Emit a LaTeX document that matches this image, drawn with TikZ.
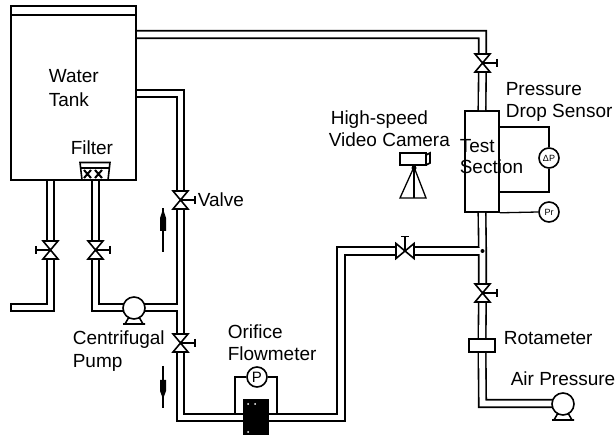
\documentclass[tikz,border=0pt]{standalone}
\usepackage{fontspec}
\setmainfont{Liberation Sans}
\usetikzlibrary{arrows.meta, calc}

% both passes of the pipe network go through this list
\newcommand{\pipenet}[1]{
  \draw[#1] (topcorner -| tank.east) -- (topcorner) -- (valvetop) -- (test.north);
  \draw[#1] (test.south) -- (junction) -- (valveair) -- (rotameter) -- (aircorner) -- (airpump);
  \draw[#1] (junction) -- (valvemid) -- (risercorner) -- (lowcorner) -- (returncorner) -- (valveup) -- (returntop) -- (returntop -| tank.east);
  \draw[#1] (tee) -- (pump) -- (suctioncorner) -- (suctiontop);
  \draw[#1] (draintop) -- (draincorner) -- (drainend);
}

\begin{document}
\begin{tikzpicture}[
  x=1pt, y=-1pt,
  line width=1.6pt,
  lbl/.style={anchor=base west, inner sep=0pt, font=\fontsize{19}{22}\selectfont},
  tankbox/.style={rectangle, draw, minimum width=125pt, minimum height=174pt, inner sep=0pt},
  testbox/.style={rectangle, draw, minimum width=34pt, minimum height=101pt, inner sep=0pt},
  rotabox/.style={rectangle, draw, fill=white, minimum width=26pt, minimum height=13pt, inner sep=0pt},
  meterbox/.style={rectangle, fill=black, minimum width=26pt, minimum height=36pt, inner sep=0pt},
  pumpbody/.style={circle, draw, fill=white, minimum size=22pt, inner sep=0pt},
  gauge/.style={circle, draw, fill=white, minimum size=20pt, inner sep=0pt, font=\fontsize{#1}{#1}\selectfont},
  pipeouter/.style={line width=9.1pt, line join=miter},
  pipeinner/.style={line width=5.9pt, line join=miter, white},
  sigline/.style={line width=1.3pt},
  flowline/.style={line width=1.2pt},
  valve/.pic={
    \fill[white] (-6,-9) rectangle (6,9);
    \draw (-7.5,-9) -- (7.5,-9) -- (-7.5,9) -- (7.5,9) -- cycle;
    \draw (0,0) -- (14.5,0) (14.5,-4) -- (14.5,4);
  },
  pumpfoot/.pic={
    \draw (-5,9) -- (-9,16) (5,9) -- (9,16) (-11,16) -- (11,16);
  },
]
\useasboundingbox (0,0) rectangle (616,435);

% --- Main units ---
\node[tankbox] (tank) at (73.5,93) {};
\node[testbox] (test) at (482,161.5) {};
\node[rotabox] (rotameter) at (482,345.5) {};
\node[meterbox] (orifice) at (256,417) {};

% --- Pipe points ---
\coordinate (topcorner) at (482.5,34.5);
\coordinate (valvetop) at (482.5,63);
\coordinate (junction) at (482.5,251);
\coordinate (valveair) at (482.5,293);
\coordinate (aircorner) at (482.5,403.5);
\coordinate (airpump) at (563,403.5);
\coordinate (valvemid) at (405,251);
\coordinate (risercorner) at (341,251);
\coordinate (lowcorner) at (341,417.5);
\coordinate (returncorner) at (180.5,417.5);
\coordinate (valveup) at (180.5,200);
\coordinate (valvelow) at (180.5,343);
\coordinate (returntop) at (180.5,93.5);
\coordinate (tee) at (180.5,307.5);
\coordinate (pump) at (134,307.5);
\coordinate (suctioncorner) at (95.5,307.5);
\coordinate (suctiontop) at (95.5,180);
\coordinate (valvesuction) at (95.5,250);
\coordinate (draintop) at (50.5,180);
\coordinate (valvedrain) at (50.5,250);
\coordinate (draincorner) at (50.5,307.5);
\coordinate (drainend) at (11,307.5);

% --- Pipes ---
\pipenet{pipeouter}
\pipenet{pipeinner}
\draw (drainend) ++(0,-4.5) -- ++(0,9);
\fill (junction) circle (2pt);

% --- Units again, over the pipes ---
\node[tankbox] at (tank) {};
\node[rotabox] at (rotameter) {};
\node[meterbox] at (orifice) {};
\draw (tank.west |- 0,15) -- (tank.east |- 0,15);

% --- Valves ---
\pic at (valvetop) {valve};
\pic at (valveair) {valve};
\pic at (valveup) {valve};
\pic at (valvelow) {valve};
\pic at (valvesuction) {valve};
\pic[xscale=-1] at (valvedrain) {valve};
\pic[rotate=90] at (valvemid) {valve};

% --- Pumps ---
\node[pumpbody] (centrifugal) at (134,308) {};
\pic at (centrifugal) {pumpfoot};
\node[pumpbody] (airblower) at (563,404) {};
\pic at (airblower) {pumpfoot};

% --- Filter ---
\draw[fill=white] (80,162.5) -- (110,162.5) -- (108,180) -- (82,180) -- cycle;
\draw (81,168) -- (109,168);
\draw[line width=2pt] (84,170) -- (91,178) (91,170) -- (84,178) (95,170) -- (102,178) (102,170) -- (95,178);

% --- Orifice meter ---
\node[gauge=15] (dp) at (257,377) {P};
\coordinate (tapleft) at (235,414);
\coordinate (tapright) at (277,414);
\draw[sigline] (dp.west) -| (tapleft);
\draw[sigline] (dp.east) -| (tapright);
\fill[white] (248,404) circle (1pt) (255,404) circle (1pt) (248,432) circle (1pt);

% --- Sensors on the test section ---
\node[gauge=9] (deltap) at (549,158) {ΔP};
\node[gauge=9] (pr) at (549,212) {Pr};
\coordinate (taptop) at (test.east |- 0,127);
\coordinate (tapbottom) at (test.east |- 0,192);
\draw[sigline] (taptop) -| (deltap.north);
\draw[sigline] (tapbottom) -| (deltap.south);
\draw[sigline] (test.south east) -- (pr.west);

% --- Camera ---
\draw (400,153) rectangle (426,165);
\draw (426,155) -- (430,153) -- (430,163) -- (426,165);
\draw[sigline] (414,167) -- (400,198) -- (426,198) -- cycle;
\draw[sigline] (414,167) -- (414,198);
\fill (414,168) circle (2.5pt);

% --- Flow arrows ---
\draw[flowline] (163,252) -- (163,208);
\fill (160,231) rectangle (166,218) (160,218) -- (166,218) -- (163,209) -- cycle;
\draw[flowline] (163,366) -- (163,408);
\fill (160,380) rectangle (166,391) (160,391) -- (166,391) -- (163,399) -- cycle;

% --- Labels ---
\node[lbl] (water) at (48,83) {Water};
\node[lbl] (tanklbl) at (48,107) {Tank};
\node[lbl] (filterlbl) at (70,155) {Filter};
\node[lbl] (valvelbl) at (197,207) {Valve};
\node[lbl] (centlbl) at (72,345) {Centrifugal};
\node[lbl] (pumplbl) at (72,368) {Pump};
\node[lbl] (orificelbl) at (227,339) {Orifice};
\node[lbl] (flowlbl) at (227,361) {Flowmeter};
\node[lbl] (highlbl) at (330,125) {High-speed};
\node[lbl] (videolbl) at (328,147) {Video Camera};
\node[lbl] (testlbl) at (459,153) {Test};
\node[lbl] (sectionlbl) at (459,174) {Section};
\node[lbl] (presslbl) at (505,96) {Pressure};
\node[lbl] (droplbl) at (505,118) {Drop Sensor};
\node[lbl] (rotalbl) at (503,345) {Rotameter};
\node[lbl] (airlbl) at (510,386) {Air Pressure};

\end{tikzpicture}
\end{document}
